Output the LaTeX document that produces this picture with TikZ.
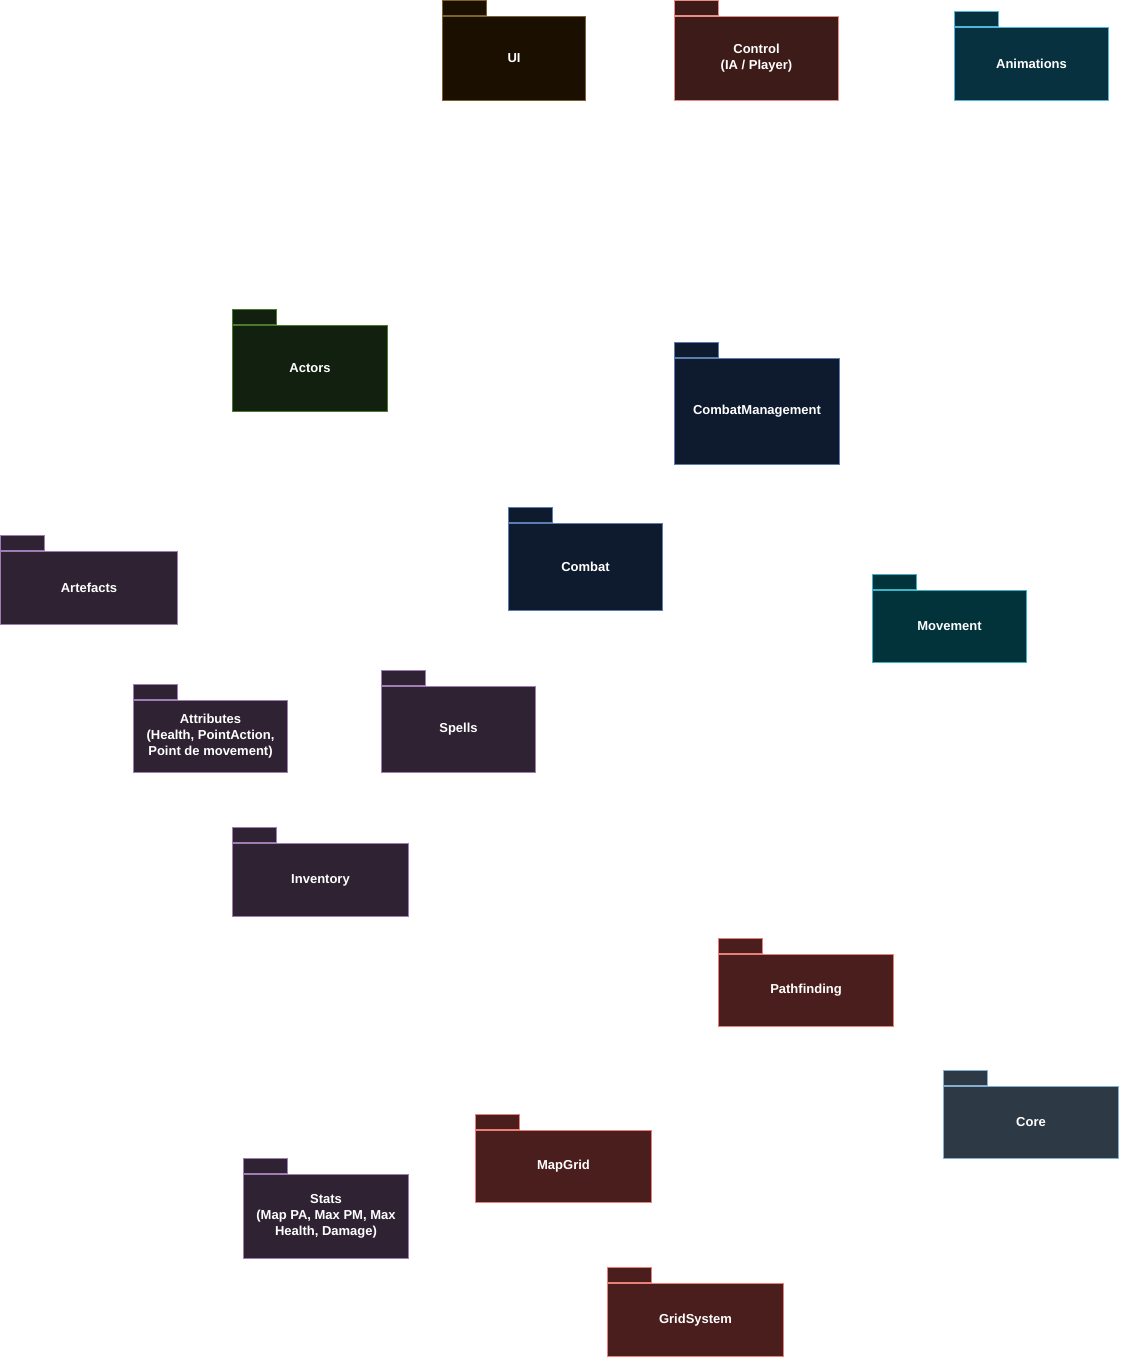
\documentclass[tikz,border=0pt]{standalone}
\usepackage{fontspec}
\setmainfont{Liberation Sans}
\usepackage{tikz}
\usetikzlibrary{positioning}
\definecolor{uifill}{HTML}{1B1000}
\definecolor{uiline}{HTML}{7F6030}
\definecolor{ctrlfill}{HTML}{3C1B18}
\definecolor{ctrlline}{HTML}{EA8B84}
\definecolor{animfill}{HTML}{08313F}
\definecolor{animline}{HTML}{52B6DA}
\definecolor{actfill}{HTML}{12210F}
\definecolor{actline}{HTML}{4D7A2C}
\definecolor{cmbfill}{HTML}{0E1A2D}
\definecolor{cmbline}{HTML}{5B7DB1}
\definecolor{purfill}{HTML}{2E2233}
\definecolor{purline}{HTML}{9F7CB4}
\definecolor{movfill}{HTML}{02323A}
\definecolor{movline}{HTML}{3BB3C6}
\definecolor{gridfill}{HTML}{4A1E1D}
\definecolor{gridline}{HTML}{EA7F7A}
\definecolor{corefill}{HTML}{2D3945}
\definecolor{coreline}{HTML}{85AFCF}

\begin{document}
\begin{tikzpicture}[
  x=1pt,y=-1pt,
  font=\fontsize{13}{16}\selectfont\bfseries,
  pkg/.style={rectangle,line width=1pt,text=white,align=center,anchor=north west,
    inner sep=2pt},
  tabbox/.style={rectangle,line width=1pt,minimum width=44pt,minimum height=15pt,
    inner sep=0pt,anchor=south west},
  uipkg/.style={draw=uiline,fill=uifill},
  ctrlpkg/.style={draw=ctrlline,fill=ctrlfill},
  animpkg/.style={draw=animline,fill=animfill},
  actpkg/.style={draw=actline,fill=actfill},
  cmbpkg/.style={draw=cmbline,fill=cmbfill},
  purpkg/.style={draw=purline,fill=purfill},
  movpkg/.style={draw=movline,fill=movfill},
  gridpkg/.style={draw=gridline,fill=gridfill},
  corepkg/.style={draw=coreline,fill=corefill}]

\useasboundingbox (0,0) rectangle (1120,1357);

% package bodies
\node[pkg,uipkg,minimum width=143pt,minimum height=84pt] (ui) at (442,16) {UI};
\node[pkg,ctrlpkg,minimum width=164pt,minimum height=84pt] (ctrl) at (674,16) {Control\\(IA / Player)};
\node[pkg,animpkg,minimum width=154pt,minimum height=73pt] (anim) at (954,27) {Animations};
\node[pkg,actpkg,minimum width=155pt,minimum height=86pt] (actors) at (232,325) {Actors};
\node[pkg,cmbpkg,minimum width=165pt,minimum height=106pt] (cmbmgmt) at (674,358) {CombatManagement};
\node[pkg,cmbpkg,minimum width=154pt,minimum height=87pt] (combat) at (508,523) {Combat};
\node[pkg,purpkg,minimum width=177pt,minimum height=73pt] (artef) at (0,551) {Artefacts};
\node[pkg,movpkg,minimum width=154pt,minimum height=72pt] (move) at (872,590) {Movement};
\node[pkg,purpkg,minimum width=154pt,minimum height=72pt] (attr) at (133,700) {Attributes\\(Health, PointAction,\\Point de movement)};
\node[pkg,purpkg,minimum width=154pt,minimum height=86pt] (spells) at (381,686) {Spells};
\node[pkg,purpkg,minimum width=176pt,minimum height=73pt] (invent) at (232,843) {Inventory};
\node[pkg,gridpkg,minimum width=175pt,minimum height=72pt] (pathf) at (718,954) {Pathfinding};
\node[pkg,corepkg,minimum width=175pt,minimum height=72pt] (core) at (943,1086) {Core};
\node[pkg,gridpkg,minimum width=176pt,minimum height=72pt] (mapgrid) at (475,1130) {MapGrid};
\node[pkg,purpkg,minimum width=165pt,minimum height=84pt] (stats) at (243,1174) {Stats\\(Map PA, Max PM, Max\\Health, Damage)};
\node[pkg,gridpkg,minimum width=176pt,minimum height=73pt] (gridsys) at (607,1283) {GridSystem};

% folder tabs
\foreach \n/\c in {ui/uipkg,ctrl/ctrlpkg,anim/animpkg,actors/actpkg,cmbmgmt/cmbpkg,
    combat/cmbpkg,artef/purpkg,move/movpkg,attr/purpkg,spells/purpkg,invent/purpkg,
    pathf/gridpkg,core/corepkg,mapgrid/gridpkg,stats/purpkg,gridsys/gridpkg}
  \node[tabbox,\c] (\n tab) at (\n.north west) {};
\end{tikzpicture}
\end{document}
